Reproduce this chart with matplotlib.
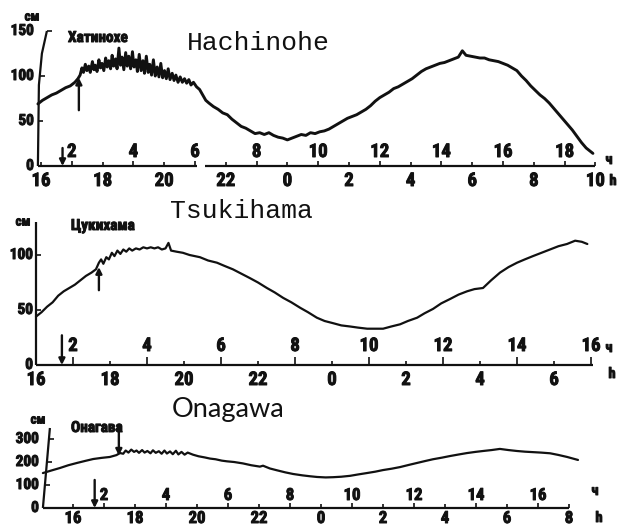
import numpy as np
import matplotlib
matplotlib.use("Agg")
import matplotlib.pyplot as plt
from matplotlib import font_manager as fm
from matplotlib import patheffects as pe

W, H = 617, 527

# ---- Hachinohe: sea level (cm) against local hour (after midnight as 24+) ----
hach_hours = [15.90, 16.05, 16.20, 16.35, 16.50, 16.65, 16.80, 16.95, 17.10, 17.20,
              17.27,
              17.33, 17.38, 17.44, 17.49, 17.55, 17.60, 17.67, 17.72, 17.76, 17.82,
              17.88, 17.93, 17.98, 18.04, 18.10, 18.15, 18.20, 18.26, 18.31, 18.36,
              18.42, 18.47, 18.53, 18.58, 18.63, 18.69, 18.75, 18.80, 18.85, 18.91,
              18.97, 19.02, 19.08, 19.13, 19.19, 19.25, 19.31, 19.36, 19.42, 19.48,
              19.53, 19.59, 19.65, 19.71, 19.77, 19.83, 19.89, 19.95, 20.01, 20.07,
              20.13, 20.19, 20.26, 20.32, 20.38, 20.45, 20.52, 20.59, 20.66, 20.73,
              20.80, 20.87, 20.95, 21.05,
              21.15, 21.25, 21.35, 21.45, 21.60, 21.75, 21.90, 22.05, 22.20,
              22.35, 22.50, 22.65, 22.80, 22.95, 23.10, 23.25, 23.40, 23.55, 23.70,
              23.85, 24.00, 24.15, 24.30, 24.45, 24.60, 24.75, 24.90, 25.05, 25.20,
              25.35, 25.50, 25.65, 25.80, 25.95, 26.10, 26.25, 26.40, 26.55, 26.70,
              26.85, 27.00, 27.15, 27.30, 27.45, 27.60, 27.75, 27.90, 28.05, 28.20,
              28.35, 28.50, 28.65, 28.80, 28.95, 29.10, 29.25, 29.40, 29.55, 29.68,
              29.80, 29.95, 30.10, 30.25, 30.40, 30.55, 30.70, 30.85, 31.00, 31.15,
              31.30, 31.45, 31.60, 31.75, 31.90, 32.05, 32.20, 32.35, 32.50, 32.65,
              32.80, 32.95, 33.10, 33.25, 33.40, 33.55, 33.70, 33.92]
hach_cm = [69, 73, 76, 79, 81, 84, 87, 89, 93, 97,
           101,
           109, 104, 113, 106, 111, 104, 116, 107, 112, 105,
           118, 109, 114, 106, 120, 110, 117, 108, 123, 111,
           119, 108, 131, 112, 121, 107, 126, 111, 122, 108,
           127, 110, 118, 105, 124, 106, 117, 103, 122, 104,
           113, 101, 118, 100, 110, 99, 114, 98, 106, 97,
           108, 96, 103, 95, 101, 93, 99, 93, 97, 92,
           96, 90, 93, 88,
           85, 79, 73, 70, 66, 63, 59, 57, 52,
           48, 44, 42, 39, 36, 37, 35, 37, 34, 32,
           31, 29, 31, 33, 35, 34, 37, 36, 38, 39,
           41, 44, 47, 50, 53, 55, 57, 60, 63, 67,
           72, 76, 79, 82, 86, 88, 91, 94, 97, 101,
           105, 108, 110, 112, 114, 115, 117, 119, 121, 128,
           123, 122, 121, 120, 120, 118, 117, 116, 114, 112,
           109, 106, 100, 95, 89, 84, 79, 75, 70, 64,
           58, 52, 46, 40, 33, 26, 20, 14]

# ---- Tsukihama ----
tsuk_hours = [16.00, 16.15, 16.30, 16.45, 16.60, 16.75, 16.90, 17.05, 17.20, 17.35,
              17.50, 17.62, 17.70, 17.76, 17.82, 17.90, 17.97, 18.05, 18.12, 18.20,
              18.28, 18.36, 18.44, 18.52, 18.60, 18.70, 18.80, 18.90, 19.00, 19.10,
              19.20, 19.30, 19.40, 19.50, 19.58, 19.65, 19.80, 19.97, 20.15, 20.43,
              20.65, 20.89, 21.10, 21.32, 21.55, 21.78, 22.00, 22.24, 22.45, 22.68,
              22.90, 23.14, 23.35, 23.59, 23.80, 24.03, 24.25, 24.49, 24.70, 24.95,
              25.15, 25.38, 25.60, 25.84, 26.05, 26.30, 26.50, 26.73, 26.95, 27.19,
              27.42, 27.65, 27.85, 28.08, 28.30, 28.54, 28.77, 29.00, 29.21, 29.43,
              29.66, 29.89, 30.12, 30.35, 30.57, 30.75, 30.90]
tsuk_cm = [44, 48, 53, 57, 63, 67, 70, 73, 77, 81,
           84, 87, 93, 96, 92, 98, 96, 102, 99, 104,
           101, 105, 103, 106, 104, 106, 105, 107, 106, 107,
           106, 107, 105, 106, 111, 104, 103, 102, 100, 98,
           95, 93, 90, 87, 83, 79, 75, 70, 66, 61,
           57, 52, 48, 43, 40, 38, 36, 35, 34, 33,
           33, 33, 35, 37, 40, 43, 47, 51, 56, 60,
           64, 67, 69, 70, 77, 84, 89, 93, 96, 99,
           102, 105, 108, 110, 113, 112, 110]

# ---- Onagawa ----
onag_hours = [15.03, 15.30, 15.58, 15.85, 16.13, 16.40, 16.65, 16.92, 17.19, 17.40,
              17.52, 17.62, 17.70, 17.79, 17.88, 17.97, 18.05, 18.13, 18.23, 18.31,
              18.40, 18.50, 18.58, 18.67, 18.77, 18.86, 18.95, 19.03, 19.13, 19.22,
              19.32, 19.40, 19.50, 19.60, 19.70, 19.87, 20.05, 20.25, 20.42, 20.60,
              20.80, 20.97, 21.20, 21.48, 21.75, 22.03, 22.13, 22.35, 22.58, 22.85,
              23.10, 23.40, 23.65, 23.87, 24.15, 24.39, 24.65, 24.94, 25.20, 25.48,
              25.75, 26.00, 26.28, 26.55, 26.85, 27.10, 27.35, 27.61, 27.90, 28.16,
              28.45, 28.71, 28.98, 29.23, 29.50, 29.77, 30.05, 30.32, 30.58, 30.84,
              31.10, 31.39, 31.65, 31.94, 32.29]
onag_cm = [152, 163, 174, 186, 196, 205, 213, 218, 222, 230,
           239, 236, 250, 241, 254, 244, 250, 240, 252, 241,
           248, 238, 251, 240, 247, 236, 250, 237, 246, 234,
           249, 233, 244, 232, 241, 232, 225, 220, 215, 212,
           206, 203, 200, 194, 186, 180, 184, 172, 164, 155,
           148, 142, 138, 135, 133, 134, 136, 140, 146, 152,
           158, 165, 171, 178, 188, 196, 204, 212, 219, 226,
           233, 239, 244, 248, 252, 257, 252, 248, 245, 243,
           241, 238, 231, 222, 209]

assert len(hach_hours) == len(hach_cm)
assert len(tsuk_hours) == len(tsuk_cm)
assert len(onag_hours) == len(onag_cm)

# earthquake moment and first-wave arrival at each gauge
quake_hour = 16.7
arrival_hours = [17.23, 17.70, 17.48]

# clock hours written under each time axis, elapsed hours written above it
hach_clock = [16, 18, 20, 22, 0, 2, 4, 6, 8, 10]
tsuk_clock = [16, 18, 20, 22, 0, 2, 4, 6]
onag_clock = [16, 18, 20, 22, 0, 2, 4, 6, 8]
hach_elapsed = [2, 4, 6, 8, 10, 12, 14, 16, 18]
tsuk_elapsed = [2, 4, 6, 8, 10, 12, 14, 16]
onag_elapsed = [2, 4, 6, 8, 10, 12, 14, 16]
elapsed_offset = 15.0

hach_levels = [0, 50, 100, 150]
tsuk_levels = [0, 50, 100]
onag_levels = [0, 100, 200, 300]

INK = '#111111'
MONO = ['Liberation Mono', 'DejaVu Sans Mono']
PT = 0.72  # points per pixel at 100 dpi


def _narrow_bold_file():
    """Pick a bold, narrow sans face for the numerals and small labels."""
    entries = fm.fontManager.ttflist

    def is_bold(f):
        return str(f.weight).lower() in ('700', 'bold', '800', 'heavy')

    def is_narrow(f):
        tag = (f.name + ' ' + str(f.stretch) + ' ' + f.fname).lower()
        return 'narrow' in tag or 'condensed' in tag

    def is_static(f):
        return '[' not in f.fname and 'variable' not in f.fname.lower()

    prefs = ['liberation sans narrow', 'roboto condensed', 'dejavu sans',
             'noto sans', 'open sans', 'roboto']
    for need_static in (True, False):
        for p in prefs:
            for f in entries:
                if (f.name.lower().startswith(p) and is_bold(f) and is_narrow(f)
                        and f.style == 'normal' and 'mono' not in f.name.lower()
                        and 'extra' not in f.fname.lower()
                        and (is_static(f) or not need_static)):
                    return f.fname
    for f in entries:
        if is_bold(f) and is_narrow(f) and f.style == 'normal':
            return f.fname
    return None


_nb = _narrow_bold_file()
INKY = [pe.withStroke(linewidth=0.7, foreground=INK)]


def nfont(size):
    if _nb is not None:
        return fm.FontProperties(fname=_nb, size=size)
    return fm.FontProperties(family='DejaVu Sans', weight='bold', size=size * 0.8)


fig = plt.figure(figsize=(W / 100, H / 100), dpi=100)
fig.patch.set_facecolor('white')


def clock_to_hour(c):
    return c + 24 if c < 15 else c


def draw_panel(box, xlim, ylim, hours, cm, line_w, clock, elapsed, levels,
               slant, gap=None, top_len=5, top_lift=6, bot_drop=6,
               fs_x=13.5, fs_y=11, lbl_gap=4):
    x0, y_top, x1, y_bot = box
    ax = fig.add_axes([x0 / W, 1 - y_bot / H, (x1 - x0) / W, (y_bot - y_top) / H])
    ax.set_xlim(*xlim)
    ax.set_ylim(*ylim)
    ax.axis('off')
    hpx = (x1 - x0) / (xlim[1] - xlim[0])
    vpx = (y_bot - y_top) / (ylim[1] - ylim[0])
    kw = dict(color=INK, clip_on=False, solid_capstyle='butt')
    tkw = dict(textcoords='offset points', color=INK, annotation_clip=False,
               ha='center', path_effects=INKY)

    ax.plot(hours, cm, lw=line_w, color=INK, clip_on=False,
            solid_joinstyle='round', solid_capstyle='round')

    # time axis (possibly broken)
    segs = [(xlim[0], gap[0]), (gap[1], xlim[1])] if gap else [xlim]
    for a, b in segs:
        ax.plot([a, b], [0, 0], lw=1.6, **kw)
    for c in clock:
        h = clock_to_hour(c)
        ax.plot([h, h], [0, 4 / vpx], lw=1.2, **kw)
        ax.annotate(str(c), (h, 0), xytext=(0, -bot_drop * PT), va='top',
                    fontproperties=nfont(fs_x), **tkw)
    for e in elapsed:
        h = e + elapsed_offset
        ax.plot([h, h], [0, top_len / vpx], lw=1.2, **kw)
        ax.annotate(str(e), (h, 0), xytext=(0, top_lift * PT), va='bottom',
                    fontproperties=nfont(fs_x), **tkw)

    # level axis, leaning as in the hand-drawn record
    sv = [s[0] for s in slant]
    sdx = [s[1] for s in slant]
    ax.plot(xlim[0] + np.array(sdx) / hpx, sv, lw=1.6, **kw)
    for v in levels:
        xv = xlim[0] + np.interp(v, sv, sdx) / hpx
        if v > 0:
            ax.plot([xv, xv + 5 / hpx], [v, v], lw=1.2, **kw)
        ax.annotate(str(v), (xlim[0], v), xytext=(-lbl_gap * PT, 0),
                    textcoords='offset points', ha='right', va='center',
                    fontproperties=nfont(fs_y), color=INK,
                    annotation_clip=False, path_effects=INKY)
    return ax


def arrow(ax, h, v_from, v_to):
    ax.annotate('', xy=(h, v_to), xytext=(h, v_from), annotation_clip=False,
                arrowprops=dict(arrowstyle='-|>', lw=1.7, color=INK,
                                mutation_scale=9, shrinkA=0, shrinkB=0))


# Hachinohe
ax1 = draw_panel((37.9, 31, 595.4, 166), (15.9, 34.0), (0, 150),
                 hach_hours, hach_cm, 2.1, hach_clock, hach_elapsed,
                 hach_levels, [(0, 0), (90, 1), (125, 4), (150, 9)],
                 gap=(21.07, 21.33), top_len=5, top_lift=5, bot_drop=6,
                 lbl_gap=4)
arrow(ax1, quake_hour, 20, 0)
arrow(ax1, arrival_hours[0], 62, 98)

# Tsukihama
ax2 = draw_panel((36, 222, 592.9, 365), (16.0, 31.05), (0, 130),
                 tsuk_hours, tsuk_cm, 1.6, tsuk_clock, tsuk_elapsed,
                 tsuk_levels, [(0, 0), (130, 0)],
                 top_len=8, top_lift=10, bot_drop=6, lbl_gap=3)
arrow(ax2, quake_hour, 27, 0)
arrow(ax2, arrival_hours[1], 68, 89)

# Onagawa
ax3 = draw_panel((42.9, 428, 569, 508), (15.03, 32.0), (0, 348),
                 onag_hours, onag_cm, 1.6, onag_clock, onag_elapsed,
                 onag_levels, [(0, 0), (348, 7)],
                 top_len=5, top_lift=5, bot_drop=3, fs_x=12, lbl_gap=4)
arrow(ax3, quake_hour, 122, 0)
arrow(ax3, arrival_hours[2], 360, 228)


def ftext(x, y, s, **kw):
    fig.text(x / W, 1 - y / H, s, color=INK, **kw)


# station names
ftext(187, 50, 'Hachinohe', family=MONO, fontsize=19, va='baseline')
ftext(170, 218, 'Tsukihama', family=MONO, fontsize=19, va='baseline')
ftext(172, 417, 'Onagawa', family=['Lato', 'DejaVu Sans'], fontsize=19.5,
      va='baseline')

ftext(68, 38, 'Хатинохе', va='center', fontproperties=nfont(11), path_effects=INKY)
ftext(71, 226, 'Цукихама', va='center', fontproperties=nfont(11), path_effects=INKY)
ftext(71, 428, 'Онагава', va='center', fontproperties=nfont(11), path_effects=INKY)

# units
for x, y in [(32, 17), (23, 222), (38, 420)]:
    ftext(x, y, 'см', ha='center', va='center', fontproperties=nfont(9.5),
          path_effects=INKY)
for (x, y) in [(609, 160), (609, 348), (595, 491)]:
    ftext(x, y, 'ч', ha='center', va='center', fontproperties=nfont(10.5),
          path_effects=INKY)
for (x, y) in [(613, 181), (612, 374), (599, 518)]:
    ftext(x, y, 'h', ha='center', va='center', fontproperties=nfont(10.5),
          path_effects=INKY)

fig.savefig('out.png', dpi=100, facecolor='white')
